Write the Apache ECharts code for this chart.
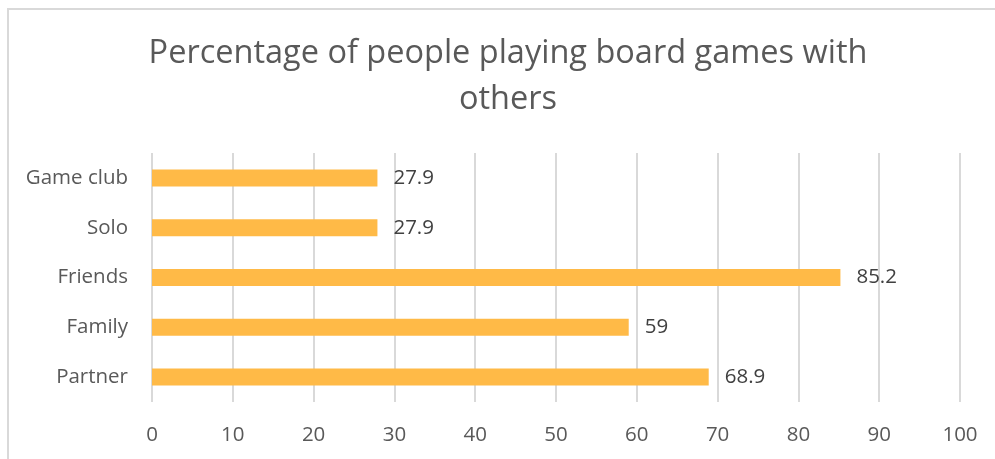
<!DOCTYPE html>
<html>
<head>
<meta charset="utf-8">
<script src="https://cdn.jsdelivr.net/npm/echarts@6/dist/echarts.min.js"></script>
<style>
html,body{margin:0;padding:0;background:#fff;}
#c{width:995px;height:459px;}
</style>
</head>
<body>
<div id="c"></div>
<script>
const titleText = 'Percentage of people playing board games with\nothers';
const categories = ['Partner', 'Family', 'Friends', 'Solo', 'Game club'];
const values = [68.9, 59, 85.2, 27.9, 27.9];
const xTicks = [0, 10, 20, 30, 40, 50, 60, 70, 80, 90, 100];

const chart = echarts.init(document.getElementById('c'), null, {renderer: 'canvas'});
const font = '"Open Sans", sans-serif';
chart.setOption({
  animation: false,
  backgroundColor: '#fff',
  graphic: [{
    type: 'rect',
    shape: {x: 8, y: 9, width: 1100, height: 600},
    style: {fill: 'none', stroke: '#d9d9d9', lineWidth: 2},
    silent: true
  }],
  title: {
    text: titleText,
    left: 503,
    textAlign: 'center',
    top: 26,
    textStyle: {fontFamily: font, fontSize: 32.5, fontWeight: 'normal', color: '#595959', lineHeight: 46}
  },
  grid: {left: 152, right: 35, top: 153, bottom: 57, containLabel: false},
  xAxis: {
    type: 'value',
    min: xTicks[0],
    max: xTicks[xTicks.length - 1],
    interval: 10,
    axisLine: {show: false},
    axisTick: {show: false},
    splitLine: {show: true, lineStyle: {color: '#d9d9d9', width: 2}},
    axisLabel: {fontFamily: font, fontSize: 20.5, color: '#595959', margin: 23}
  },
  yAxis: {
    type: 'category',
    data: categories,
    axisLine: {show: false},
    axisTick: {show: false},
    splitLine: {show: false},
    axisLabel: {fontFamily: font, fontSize: 20.5, color: '#595959', margin: 24}
  },
  series: [{
    type: 'bar',
    data: values,
    barWidth: 17,
    itemStyle: {color: '#ffba47'},
    label: {
      show: true,
      position: 'right',
      distance: 16,
      fontFamily: font,
      fontSize: 20.5,
      color: '#404040'
    }
  }]
});
</script>
</body>
</html>
